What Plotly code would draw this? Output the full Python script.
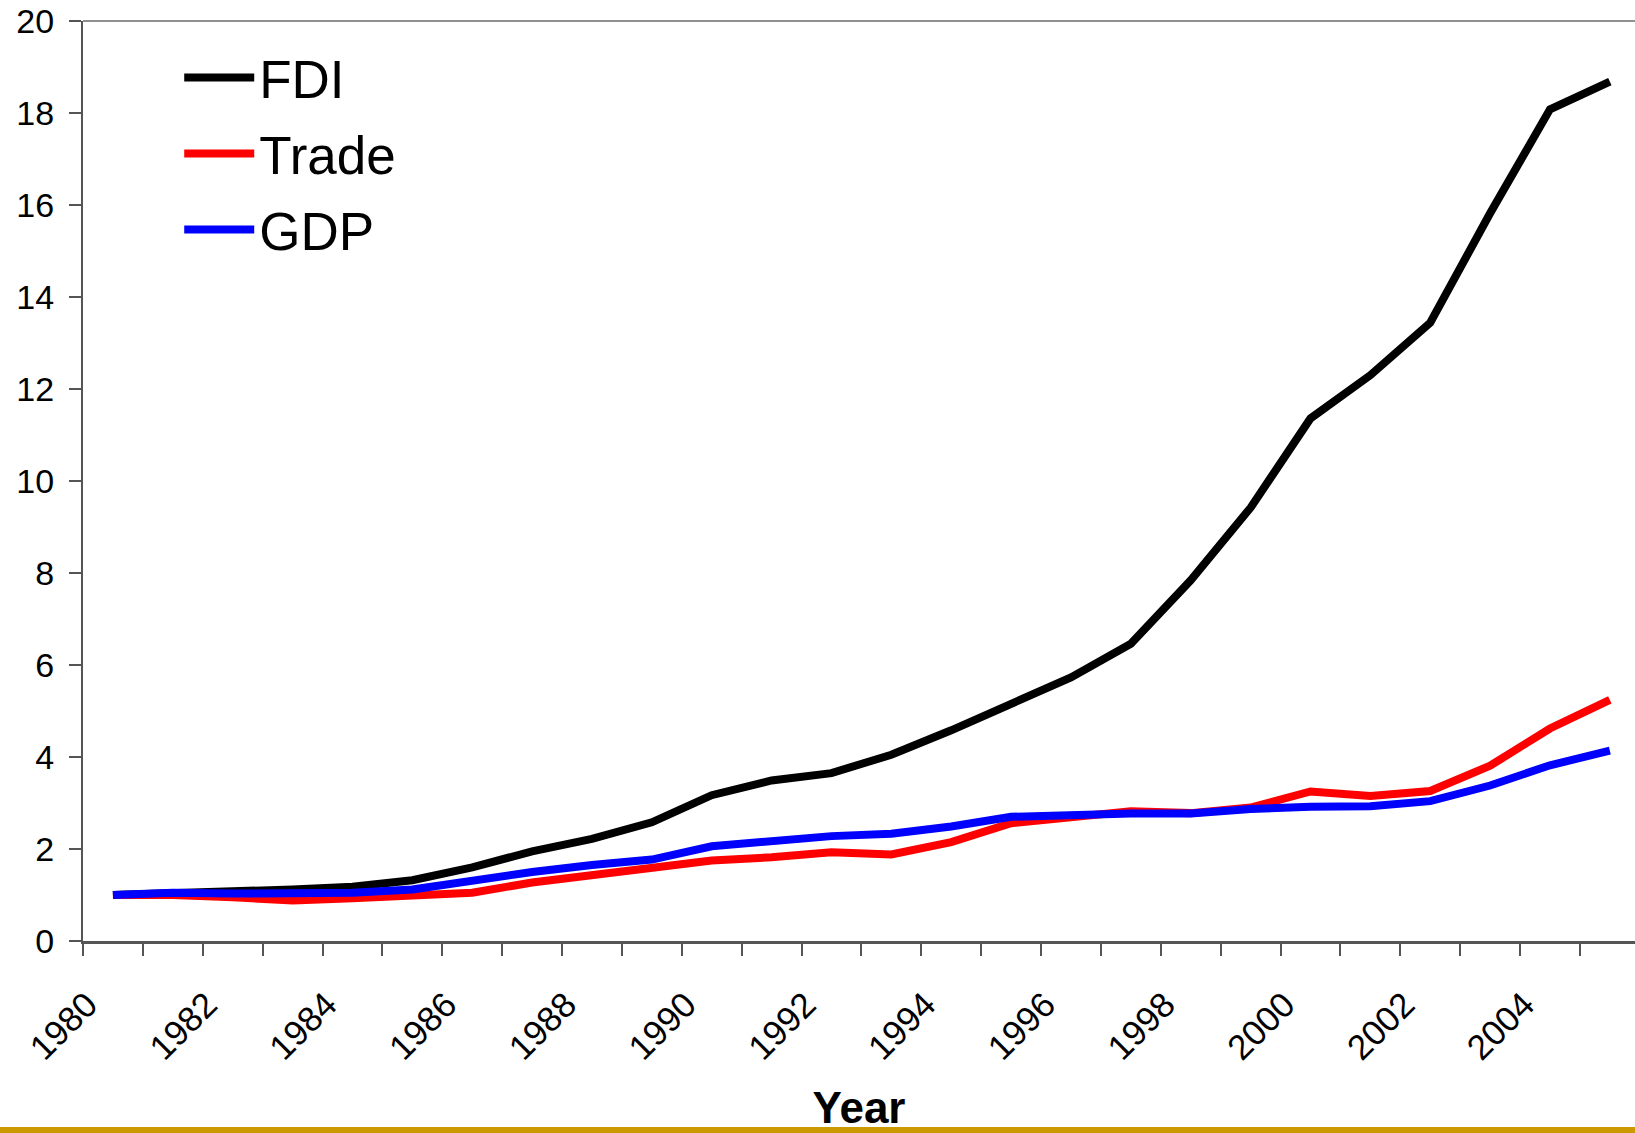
import plotly.graph_objects as go

years = list(range(1980, 2006))
fdi = [1.0, 1.04, 1.05, 1.12, 1.18, 1.32, 1.6, 1.95, 2.22, 2.58, 3.17, 3.49, 3.65,
       4.05, 4.58, 5.16, 5.73, 6.46, 7.84, 9.42, 11.36, 12.3, 13.44, 15.82, 18.08, 18.68]
trade = [1.0, 1.0, 0.95, 0.88, 0.93, 0.99, 1.05, 1.27, 1.43, 1.55, 1.75, 1.82, 1.93,
         1.88, 2.15, 2.56, 2.69, 2.82, 2.78, 2.9, 3.25, 3.15, 3.26, 3.81, 4.62, 5.24]
gdp = [1.0, 1.05, 1.03, 1.05, 1.05, 1.12, 1.33, 1.5, 1.65, 1.77, 2.06, 2.17, 2.28,
       2.33, 2.49, 2.7, 2.75, 2.77, 2.77, 2.87, 2.92, 2.93, 3.04, 3.38, 3.82, 4.14]
label_years = years[::2]
y_ticks = list(range(0, 21, 2))

W, H = 1635, 1133
ML, MR, MT, MB = 83, 0, 21, 192
plot_w = W - ML - MR
plot_h = H - MT - MB

FONT = "Arial, Liberation Sans, sans-serif"
LABEL_SHIFT = 0.43  # rotated labels sit a bit left of the category centre
boundaries = [y - 0.5 for y in years] + [years[-1] + 0.5]

fig = go.Figure()
for name, vals, col in [("FDI", fdi, "#000000"), ("Trade", trade, "#FF0000"), ("GDP", gdp, "#0000FF")]:
    fig.add_trace(go.Scatter(x=years, y=vals, mode="lines", name=name, legendgroup=name,
                             line=dict(color=col, width=8)))

fig.update_layout(
    width=W, height=H,
    margin=dict(l=ML, r=MR, t=MT, b=MB),
    paper_bgcolor="white", plot_bgcolor="white",
    font=dict(family=FONT, color="black"),
    showlegend=True,
    legend=dict(x=0.062, y=0.983, xanchor="left", yanchor="top",
                font=dict(size=53, family=FONT), traceorder="grouped",
                tracegroupgap=4, itemwidth=70, bgcolor="rgba(0,0,0,0)"),
    xaxis=dict(type="linear", tickmode="array",
               tickvals=[y - LABEL_SHIFT for y in label_years],
               ticktext=[str(y) for y in label_years],
               ticks="", tickangle=-45, tickfont=dict(size=35, family=FONT),
               minor=dict(tickmode="array", tickvals=boundaries, ticks="outside",
                          ticklen=12, tickwidth=2, tickcolor="#555555", showgrid=False),
               showline=True, linecolor="#555555", linewidth=3, showgrid=False,
               zeroline=False,
               range=[years[0] - 0.5, years[-1] + 0.42], ticklabelstandoff=26,
               title=dict(text="<b>Year</b>", font=dict(size=44, family=FONT), standoff=27)),
    yaxis=dict(range=[0, 20], tickmode="array", tickvals=y_ticks, ticks="outside",
               ticklen=12, tickwidth=2, tickcolor="#555555", tickfont=dict(size=34, family=FONT),
               showline=True, linecolor="#555555", linewidth=2, showgrid=False,
               zeroline=False, ticklabelstandoff=8),
    shapes=[
        dict(type="line", xref="paper", yref="paper", x0=0, x1=1, y0=1, y1=1,
             line=dict(color="#909090", width=2)),
        dict(type="rect", xref="paper", yref="paper",
             x0=-ML / plot_w, x1=1,
             y0=-(H - MT - plot_h + 5) / plot_h, y1=-(1127 - MT - plot_h) / plot_h,
             fillcolor="#CC9900", line=dict(width=0), layer="above"),
    ],
)

fig.write_html("out.html")
